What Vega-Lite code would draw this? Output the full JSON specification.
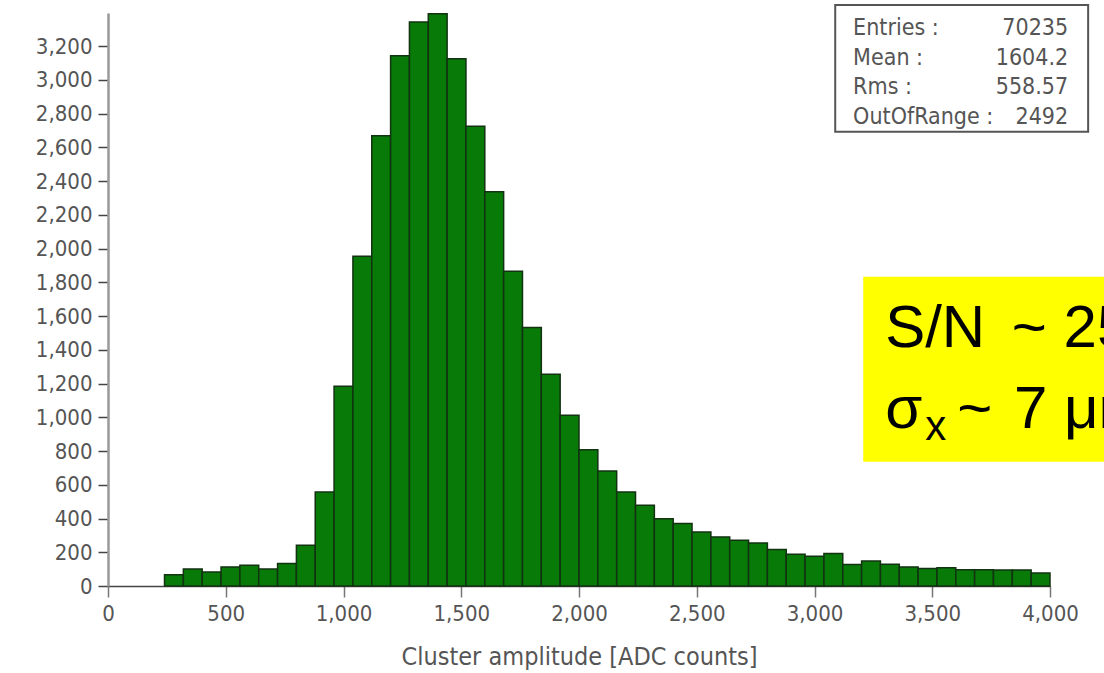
{
  "$schema": "https://vega.github.io/schema/vega-lite/v6.json",
  "width": 942,
  "height": 573,
  "autosize": {"type": "none"},
  "padding": {"left": 108, "top": 13, "right": 54, "bottom": 87},
  "background": "white",
  "config": {
    "view": {"stroke": null},
    "font": "DejaVu Sans Condensed",
    "axis": {
      "grid": false,
      "labelFont": "DejaVu Sans Condensed",
      "labelFontSize": 22,
      "labelColor": "#555",
      "labelPadding": 6,
      "labelOverlap": false,
      "labelFlush": false,
      "titleFont": "DejaVu Sans Condensed",
      "titleFontSize": 25,
      "titleFontWeight": "normal",
      "titleColor": "#555",
      "tickWidth": 1.5
    },
    "axisX": {
      "domainColor": "#444",
      "domainWidth": 1.5,
      "tickColor": "#777",
      "tickSize": 11,
      "titlePadding": 20
    },
    "axisY": {
      "tickCount": 17,
      "domainColor": "#999",
      "domainWidth": 2.5,
      "tickColor": "#444",
      "tickSize": 10
    }
  },
  "datasets": {
    "bins": [
      {"start": 240, "end": 320, "count": 67},
      {"start": 320, "end": 400, "count": 101},
      {"start": 400, "end": 480, "count": 83},
      {"start": 480, "end": 560, "count": 113},
      {"start": 560, "end": 640, "count": 123},
      {"start": 640, "end": 720, "count": 101},
      {"start": 720, "end": 800, "count": 133},
      {"start": 800, "end": 880, "count": 241},
      {"start": 880, "end": 960, "count": 557},
      {"start": 960, "end": 1040, "count": 1184},
      {"start": 1040, "end": 1120, "count": 1955},
      {"start": 1120, "end": 1200, "count": 2668},
      {"start": 1200, "end": 1280, "count": 3142},
      {"start": 1280, "end": 1360, "count": 3342},
      {"start": 1360, "end": 1440, "count": 3391},
      {"start": 1440, "end": 1520, "count": 3125},
      {"start": 1520, "end": 1600, "count": 2725},
      {"start": 1600, "end": 1680, "count": 2336},
      {"start": 1680, "end": 1760, "count": 1866},
      {"start": 1760, "end": 1840, "count": 1532},
      {"start": 1840, "end": 1920, "count": 1255},
      {"start": 1920, "end": 2000, "count": 1012},
      {"start": 2000, "end": 2080, "count": 808},
      {"start": 2080, "end": 2160, "count": 682},
      {"start": 2160, "end": 2240, "count": 557},
      {"start": 2240, "end": 2320, "count": 478},
      {"start": 2320, "end": 2400, "count": 399},
      {"start": 2400, "end": 2480, "count": 370},
      {"start": 2480, "end": 2560, "count": 320},
      {"start": 2560, "end": 2640, "count": 291},
      {"start": 2640, "end": 2720, "count": 271},
      {"start": 2720, "end": 2800, "count": 255},
      {"start": 2800, "end": 2880, "count": 216},
      {"start": 2880, "end": 2960, "count": 188},
      {"start": 2960, "end": 3040, "count": 176},
      {"start": 3040, "end": 3120, "count": 192},
      {"start": 3120, "end": 3200, "count": 128},
      {"start": 3200, "end": 3280, "count": 148},
      {"start": 3280, "end": 3360, "count": 129},
      {"start": 3360, "end": 3440, "count": 113},
      {"start": 3440, "end": 3520, "count": 103},
      {"start": 3520, "end": 3600, "count": 108},
      {"start": 3600, "end": 3680, "count": 97},
      {"start": 3680, "end": 3760, "count": 97},
      {"start": 3760, "end": 3840, "count": 95},
      {"start": 3840, "end": 3920, "count": 95},
      {"start": 3920, "end": 4000, "count": 77}
    ],
    "stats": [
      {"labels": "Entries :\nMean :\nRms :\nOutOfRange :", "values": "70235\n1604.2\n558.57\n2492"}
    ],
    "note": [
      {"line1": "S/N \u2006~ 25", "sigma": "σ", "sub": "x", "rest": "~ \u200a7 μm"}
    ]
  },
  "layer": [
    {
      "data": {"name": "bins"},
      "mark": {"type": "bar", "fill": "#087a08", "stroke": "#123212", "strokeWidth": 1.5},
      "encoding": {
        "x": {
          "field": "start", "type": "quantitative",
          "scale": {"domain": [0, 4000], "nice": false, "zero": false},
          "axis": {"values": [0, 500, 1000, 1500, 2000, 2500, 3000, 3500, 4000], "format": ",d", "title": "Cluster amplitude [ADC counts]"}
        },
        "x2": {"field": "end"},
        "y": {
          "field": "count", "type": "quantitative",
          "scale": {"domain": [0, 3396], "nice": false},
          "axis": {"format": ",d", "title": null}
        },
        "y2": {"datum": 0}
      }
    },
    {
      "data": {"name": "stats"},
      "mark": {"type": "rect", "fill": "white", "stroke": "#555", "strokeWidth": 2},
      "encoding": {
        "x": {"datum": 3088, "type": "quantitative", "axis": {"values": [0, 500, 1000, 1500, 2000, 2500, 3000, 3500, 4000], "format": ",d", "title": "Cluster amplitude [ADC counts]"}},
        "x2": {"datum": 4162},
        "y": {"datum": 3443, "type": "quantitative"},
        "y2": {"datum": 2692}
      }
    },
    {
      "data": {"name": "stats"},
      "mark": {"type": "text", "align": "left", "baseline": "alphabetic", "lineBreak": "\n", "lineHeight": 29.5, "font": "DejaVu Sans Condensed", "fontSize": 23, "fill": "#555"},
      "encoding": {
        "x": {"datum": 3164, "type": "quantitative", "axis": {"values": [0, 500, 1000, 1500, 2000, 2500, 3000, 3500, 4000], "format": ",d", "title": "Cluster amplitude [ADC counts]"}},
        "y": {"datum": 3265, "type": "quantitative"},
        "text": {"field": "labels"}
      }
    },
    {
      "data": {"name": "stats"},
      "mark": {"type": "text", "align": "right", "baseline": "alphabetic", "lineBreak": "\n", "lineHeight": 29.5, "font": "DejaVu Sans Condensed", "fontSize": 23, "fill": "#555"},
      "encoding": {
        "x": {"datum": 4077, "type": "quantitative", "axis": {"values": [0, 500, 1000, 1500, 2000, 2500, 3000, 3500, 4000], "format": ",d", "title": "Cluster amplitude [ADC counts]"}},
        "y": {"datum": 3265, "type": "quantitative"},
        "text": {"field": "values"}
      }
    },
    {
      "data": {"name": "note"},
      "mark": {"type": "rect", "fill": "#ffff00", "stroke": null},
      "encoding": {
        "x": {"datum": 3207, "type": "quantitative", "axis": {"values": [0, 500, 1000, 1500, 2000, 2500, 3000, 3500, 4000], "format": ",d", "title": "Cluster amplitude [ADC counts]"}},
        "x2": {"datum": 4400},
        "y": {"datum": 1833, "type": "quantitative"},
        "y2": {"datum": 737}
      }
    },
    {
      "data": {"name": "note"},
      "mark": {"type": "text", "align": "left", "baseline": "alphabetic", "font": "Liberation Sans", "fontSize": 60, "fill": "black"},
      "encoding": {
        "x": {"datum": 3300, "type": "quantitative", "axis": {"values": [0, 500, 1000, 1500, 2000, 2500, 3000, 3500, 4000], "format": ",d", "title": "Cluster amplitude [ADC counts]"}},
        "y": {"datum": 1418, "type": "quantitative"},
        "text": {"field": "line1"}
      }
    },
    {
      "data": {"name": "note"},
      "mark": {"type": "text", "align": "left", "baseline": "alphabetic", "font": "Liberation Sans", "fontSize": 60, "fill": "black"},
      "encoding": {
        "x": {"datum": 3300, "type": "quantitative", "axis": {"values": [0, 500, 1000, 1500, 2000, 2500, 3000, 3500, 4000], "format": ",d", "title": "Cluster amplitude [ADC counts]"}},
        "y": {"datum": 936, "type": "quantitative"},
        "text": {"field": "sigma"}
      }
    },
    {
      "data": {"name": "note"},
      "mark": {"type": "text", "align": "left", "baseline": "alphabetic", "font": "Liberation Sans", "fontSize": 42, "fill": "black"},
      "encoding": {
        "x": {"datum": 3470, "type": "quantitative", "axis": {"values": [0, 500, 1000, 1500, 2000, 2500, 3000, 3500, 4000], "format": ",d", "title": "Cluster amplitude [ADC counts]"}},
        "y": {"datum": 865, "type": "quantitative"},
        "text": {"field": "sub"}
      }
    },
    {
      "data": {"name": "note"},
      "mark": {"type": "text", "align": "left", "baseline": "alphabetic", "font": "Liberation Sans", "fontSize": 60, "fill": "black"},
      "encoding": {
        "x": {"datum": 3606, "type": "quantitative", "axis": {"values": [0, 500, 1000, 1500, 2000, 2500, 3000, 3500, 4000], "format": ",d", "title": "Cluster amplitude [ADC counts]"}},
        "y": {"datum": 936, "type": "quantitative"},
        "text": {"field": "rest"}
      }
    }
  ]
}
